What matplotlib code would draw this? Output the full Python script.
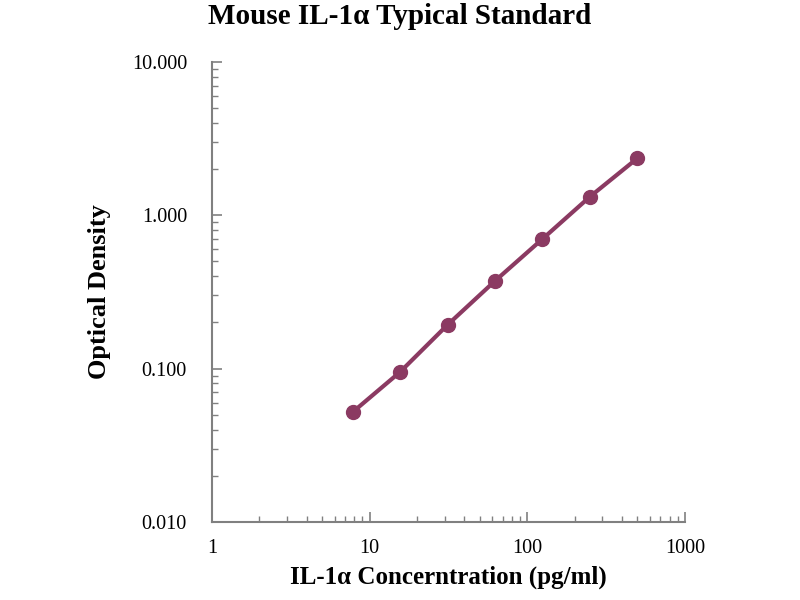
import matplotlib; matplotlib.use("Agg")
import matplotlib.pyplot as plt
from matplotlib.ticker import FuncFormatter, LogLocator

conc = [7.8, 15.6, 31.25, 62.5, 125, 250, 500]          # pg/ml
od = [0.052, 0.095, 0.193, 0.373, 0.70, 1.32, 2.35]

plt.rcParams["font.family"] = ["Liberation Serif", "DejaVu Serif"]

fig = plt.figure(figsize=(8, 6), dpi=100)
ax = fig.add_axes([0.265, 0.13, 0.591, 0.767])
col = "#8b3a62"
ax.plot(conc, od, color=col, lw=3, marker="o", ms=10, mec=col, mfc=col)

ax.set_xscale("log"); ax.set_yscale("log")
ax.set_xlim(1, 1000); ax.set_ylim(0.01, 10)
ax.yaxis.set_major_formatter(FuncFormatter(lambda v, p: f"{v:.3f}"))
ax.xaxis.set_major_formatter(FuncFormatter(lambda v, p: f"{v:g}"))
ax.xaxis.set_minor_locator(LogLocator(subs=range(2, 10)))
ax.yaxis.set_minor_locator(LogLocator(subs=range(2, 10)))
ax.xaxis.set_minor_formatter(FuncFormatter(lambda v, p: ""))
ax.yaxis.set_minor_formatter(FuncFormatter(lambda v, p: ""))

for s in ("top", "right"):
    ax.spines[s].set_visible(False)
for s in ("left", "bottom"):
    ax.spines[s].set_color("#808080"); ax.spines[s].set_linewidth(1.5)
ax.tick_params(which="both", direction="in", color="#808080", labelsize=14.5)
ax.tick_params(which="major", length=7, width=1.2)
ax.tick_params(which="minor", length=4, width=1)
ax.tick_params(axis="y", which="major", pad=18)
ax.tick_params(axis="x", which="major", pad=12)

ax.set_xlabel("IL-1α Concerntration (pg/ml)", fontsize=18, fontweight="bold", labelpad=6)
ax.set_ylabel("Optical Density", fontsize=19, fontweight="bold", labelpad=15)
fig.suptitle("Mouse IL-1α Typical Standard", fontsize=21, fontweight="bold", y=0.995)

fig.savefig("out.png", dpi=100)
